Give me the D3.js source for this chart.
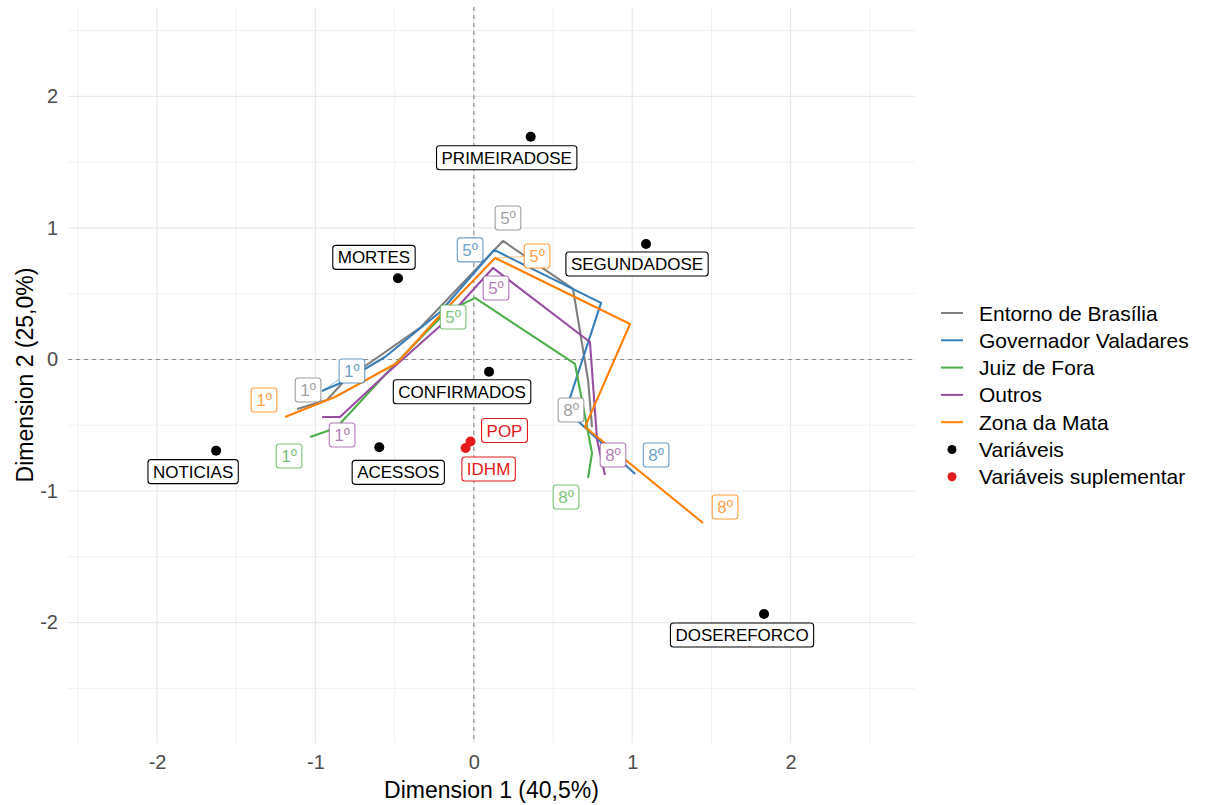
<!DOCTYPE html>
<html>
<head>
<meta charset="utf-8">
<script src="https://cdn.jsdelivr.net/npm/d3@7"></script>
<style>
  body { margin: 0; background: #fff; }
  text { font-family: "Liberation Sans", Arial, sans-serif; }
</style>
</head>
<body>
<svg id="chart" width="1214" height="805"></svg>
<script>
// ---- data -------------------------------------------------------------
const groups = ["Entorno de Brasília", "Governador Valadares", "Juiz de Fora", "Outros", "Zona da Mata"];
const periods = ["1º", "2º", "3º", "4º", "5º", "6º", "7º", "8º"];
const labelledPeriods = [0, 4, 7];

const entornoX = [-1.116, -0.927, -0.813, -0.340, 0.184, 0.626, 0.721, 0.746];
const entornoY = [-0.376, -0.308, -0.156, 0.240, 0.901, 0.536, -0.156, -0.513];
const valadaresX = [-0.959, -0.813, -0.561, -0.213, 0.128, 0.803, 0.582, 1.018];
const valadaresY = [-0.240, -0.163, 0.019, 0.361, 0.833, 0.430, -0.384, -0.871];
const juizX = [-1.034, -0.870, -0.491, -0.182, 0.008, 0.639, 0.746, 0.721];
const juizY = [-0.589, -0.521, -0.027, 0.354, 0.468, -0.034, -0.711, -0.901];
const outrosX = [-0.958, -0.845, -0.561, -0.213, 0.121, 0.733, 0.778, 0.828];
const outrosY = [-0.437, -0.437, -0.118, 0.255, 0.696, 0.133, -0.612, -0.878];
const mataX = [-1.192, -0.876, -0.485, -0.182, 0.134, 0.986, 0.702, 1.447];
const mataY = [-0.437, -0.285, -0.027, 0.376, 0.772, 0.270, -0.513, -1.243];

const varNames = ["PRIMEIRADOSE", "MORTES", "SEGUNDADOSE", "CONFIRMADOS", "NOTICIAS", "ACESSOS", "DOSEREFORCO"];
const varX = [0.359, -0.479, 1.087, 0.096, -1.627, -0.597, 1.832];
const varY = [1.694, 0.617, 0.878, -0.093, -0.693, -0.668, -1.935];

const supNames = ["POP", "IDHM"];
const supX = [-0.021, -0.052];
const supY = [-0.624, -0.673];

const xTicks = [-2, -1, 0, 1, 2];
const yTicks = [-2, -1, 0, 1, 2];
const minorTicks = [-2.5, -1.5, -0.5, 0.5, 1.5, 2.5];

const xTitle = "Dimension 1 (40,5%)";
const yTitle = "Dimension 2 (25,0%)";
const legendPoints = ["Variáveis", "Variáveis suplementar"];

// ---- layout & style ---------------------------------------------------
const colors = ["#7f7f7f", "#377eb8", "#4daf4a", "#984ea3", "#ff7f00"];
const supColor = "#e41a1c";
const panel = { left: 68, right: 915, top: 7, bottom: 743 };

// label placement (pixel offsets from the point they describe)
const varLabelOffset = [[-24, 21], [-24, -21], [-9, 20], [-27, 20], [-23, 21], [19, 25], [-22, 21]];
const supLabelOffset = [[34, -11], [23, 21]];
const periodLabelOffset = [
  [[11, -19], [5, -23], [-21, -17]],
  [[30, -20], [-24, 0], [21, -19]],
  [[-21, 19], [-22, 19], [-22, 19]],
  [[20, 18], [3, 20], [8, -20]],
  [[-21, -17], [42, -2], [22, -16]]
];

const series = [
  [entornoX, entornoY], [valadaresX, valadaresY], [juizX, juizY], [outrosX, outrosY], [mataX, mataY]
].map(([xs, ys], i) => ({
  name: groups[i], color: colors[i],
  pts: xs.map((v, k) => ({ x: v, y: ys[k], p: periods[k] }))
}));

// ---- scales -----------------------------------------------------------
const x = d3.scaleLinear().domain([-2.562, 2.785]).range([panel.left, panel.right]);
const y = d3.scaleLinear().domain([-2.916, 2.68]).range([panel.bottom, panel.top]);
const fmt = d => String(d);   // plain hyphen-minus, no decimals

const svg = d3.select("#chart");

// grid
const grid = svg.append("g");
grid.selectAll(".vminor").data(minorTicks).join("line")
  .attr("x1", d => x(d)).attr("x2", d => x(d))
  .attr("y1", panel.top).attr("y2", panel.bottom)
  .attr("stroke", "#f0f0f0").attr("stroke-width", 1);
grid.selectAll(".hminor").data(minorTicks).join("line")
  .attr("y1", d => y(d)).attr("y2", d => y(d))
  .attr("x1", panel.left).attr("x2", panel.right)
  .attr("stroke", "#f0f0f0").attr("stroke-width", 1);
grid.selectAll(".vmajor").data(xTicks).join("line")
  .attr("x1", d => x(d)).attr("x2", d => x(d))
  .attr("y1", panel.top).attr("y2", panel.bottom)
  .attr("stroke", "#e9e9e9").attr("stroke-width", 1.2);
grid.selectAll(".hmajor").data(yTicks).join("line")
  .attr("y1", d => y(d)).attr("y2", d => y(d))
  .attr("x1", panel.left).attr("x2", panel.right)
  .attr("stroke", "#e9e9e9").attr("stroke-width", 1.2);

// reference lines through the origin
svg.append("line").attr("x1", x(0)).attr("x2", x(0)).attr("y1", panel.top).attr("y2", panel.bottom)
  .attr("stroke", "#8c8c8c").attr("stroke-width", 1.1).attr("stroke-dasharray", "4,4");
svg.append("line").attr("y1", y(0)).attr("y2", y(0)).attr("x1", panel.left).attr("x2", panel.right)
  .attr("stroke", "#8c8c8c").attr("stroke-width", 1.1).attr("stroke-dasharray", "4,4");

// axes (text only, minimal theme)
const axisX = d3.axisBottom(x).tickValues(xTicks).tickFormat(fmt).tickSize(0).tickPadding(0);
const gx = svg.append("g").attr("transform", `translate(0,${panel.bottom + 12})`).call(axisX);
gx.select(".domain").remove();
gx.selectAll("text").attr("font-size", 20).attr("fill", "#4d4d4d")
  .attr("font-family", "Liberation Sans, Arial, sans-serif").attr("dy", "0.71em");

const axisY = d3.axisLeft(y).tickValues(yTicks).tickFormat(fmt).tickSize(0).tickPadding(0);
const gy = svg.append("g").attr("transform", `translate(${panel.left - 10},0)`).call(axisY);
gy.select(".domain").remove();
gy.selectAll("text").attr("font-size", 20).attr("fill", "#4d4d4d")
  .attr("font-family", "Liberation Sans, Arial, sans-serif");

svg.append("text").attr("x", (panel.left + panel.right) / 2).attr("y", 798)
  .attr("text-anchor", "middle").attr("font-size", 23).attr("fill", "#000").text(xTitle);
svg.append("text").attr("transform", `translate(33,${(panel.top + panel.bottom) / 2}) rotate(-90)`)
  .attr("text-anchor", "middle").attr("font-size", 23).attr("fill", "#000").text(yTitle);

// trajectories
const line = d3.line().x(d => x(d.x)).y(d => y(d.y));
svg.append("g").selectAll("path").data(series).join("path")
  .attr("d", d => line(d.pts))
  .attr("fill", "none").attr("stroke", d => d.color)
  .attr("stroke-width", 2.1).attr("stroke-linejoin", "round");

// points
svg.append("g").selectAll("circle").data(varNames.map((n, i) => ({ x: varX[i], y: varY[i] })))
  .join("circle").attr("cx", d => x(d.x)).attr("cy", d => y(d.y)).attr("r", 5).attr("fill", "#000");
svg.append("g").selectAll("circle").data(supNames.map((n, i) => ({ x: supX[i], y: supY[i] })))
  .join("circle").attr("cx", d => x(d.x)).attr("cy", d => y(d.y)).attr("r", 5).attr("fill", supColor);

// boxed labels
function boxLabel(g, txt, cx, cy, color, fs, textOpacity) {
  const lg = g.append("g");
  const rect = lg.append("rect").attr("fill", "#fff").attr("stroke", color)
    .attr("stroke-width", 1.1).attr("rx", 3).attr("ry", 3)
    .attr("stroke-opacity", textOpacity);
  const t = lg.append("text").attr("x", cx).attr("y", cy).attr("dy", "0.36em")
    .attr("text-anchor", "middle").attr("font-size", fs).attr("fill", color)
    .attr("fill-opacity", textOpacity).text(txt);
  const w = t.node().getComputedTextLength();
  const h = fs + 7;
  rect.attr("x", cx - w / 2 - 5).attr("y", cy - h / 2).attr("width", w + 10).attr("height", h);
}

const labels = svg.append("g");
series.forEach((s, i) => {
  labelledPeriods.forEach((k, j) => {
    const pt = s.pts[k];
    const [dx, dy] = periodLabelOffset[i][j];
    const px = x(pt.x), py = y(pt.y);
    if (Math.hypot(dx, dy) > 35) {
      labels.append("line").attr("x1", px).attr("y1", py).attr("x2", px + dx).attr("y2", py + dy)
        .attr("stroke", s.color).attr("stroke-opacity", 0.5).attr("stroke-width", 1);
    }
    boxLabel(labels, pt.p, px + dx, py + dy, s.color, 17, 0.75);
  });
});
varNames.forEach((n, i) => {
  boxLabel(labels, n, x(varX[i]) + varLabelOffset[i][0], y(varY[i]) + varLabelOffset[i][1], "#000", 17, 1);
});
supNames.forEach((n, i) => {
  boxLabel(labels, n, x(supX[i]) + supLabelOffset[i][0], y(supY[i]) + supLabelOffset[i][1], supColor, 17, 1);
});

// legend
const legend = svg.append("g").attr("transform", "translate(941,313)");
const rowH = 27.3;
series.forEach((s, i) => {
  const r = legend.append("g").attr("transform", `translate(0,${i * rowH})`);
  r.append("line").attr("x1", 0).attr("x2", 22).attr("stroke", s.color).attr("stroke-width", 2);
  r.append("text").attr("x", 38).attr("dy", "0.36em").attr("font-size", 21).attr("fill", "#000").text(s.name);
});
legendPoints.forEach((n, i) => {
  const r = legend.append("g").attr("transform", `translate(0,${(series.length + i) * rowH})`);
  r.append("circle").attr("cx", 11).attr("r", 4.5).attr("fill", i === 0 ? "#000" : supColor);
  r.append("text").attr("x", 38).attr("dy", "0.36em").attr("font-size", 21).attr("fill", "#000").text(n);
});
</script>
</body>
</html>
